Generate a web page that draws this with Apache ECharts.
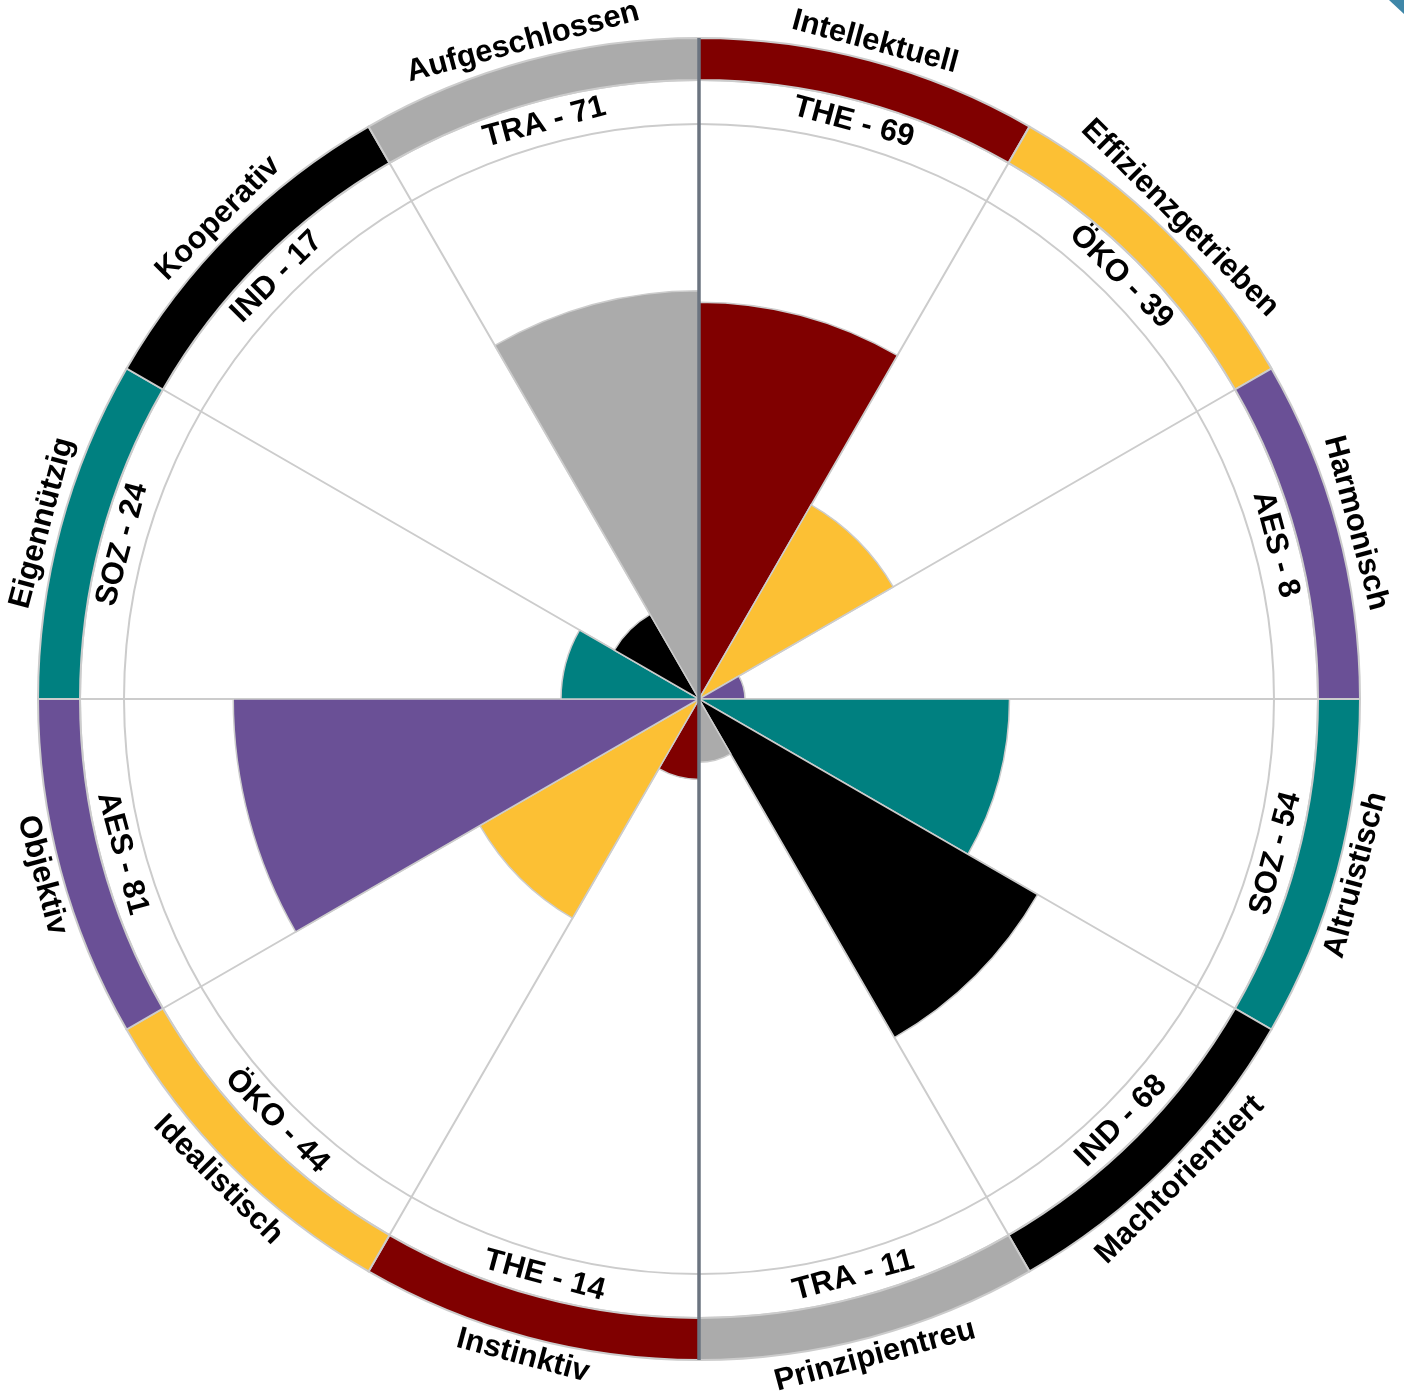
<!DOCTYPE html>
<html>
<head>
<meta charset="utf-8">
<script src="https://cdn.jsdelivr.net/npm/echarts@6/dist/echarts.min.js"></script>
<style>
  html, body { margin: 0; padding: 0; background: #fff; }
  #chart { width: 1404px; height: 1395px; }
</style>
</head>
<body>
<div id="chart"></div>
<script>
// data
const categories = [
  "Intellektuell", "Effizienzgetrieben", "Harmonisch", "Altruistisch",
  "Machtorientiert", "Prinzipientreu", "Instinktiv", "Idealistisch",
  "Objektiv", "Eigennützig", "Kooperativ", "Aufgeschlossen",
];
const codes = ["THE", "ÖKO", "AES", "SOZ", "IND", "TRA", "THE", "ÖKO", "AES", "SOZ", "IND", "TRA"];
const values = [69, 39, 8, 54, 68, 11, 14, 44, 81, 24, 17, 71];

// colours per motive code
const codeColors = {
  THE: "#800000",
  "ÖKO": "#FCC034",
  AES: "#6A5096",
  SOZ: "#008080",
  IND: "#000000",
  TRA: "#ABABAB",
};

// layout
const CX = 699, CY = 699;
const R_GRID = 575;      // value 100
const R_RING_IN = 619;
const R_RING_OUT = 661;
const R_NAME = 680;      // centre of the category name labels
const FONT = "'Liberation Sans', Arial, sans-serif";
const FONT_SIZE = 31;

const chart = echarts.init(document.getElementById("chart"), null, { renderer: "canvas" });

const hiddenAngle = (idx, split) => ({
  polarIndex: idx,
  type: "category",
  data: categories,
  startAngle: 90,
  clockwise: true,
  boundaryGap: true,
  axisLine: { show: false },
  axisTick: { show: false },
  axisLabel: { show: false },
  splitLine: { show: split, lineStyle: { color: "#cccccc", width: 2 } },
});

const hiddenRadius = (idx) => ({
  polarIndex: idx,
  type: "value",
  min: 0,
  max: 1,
  axisLine: { show: false },
  axisTick: { show: false },
  axisLabel: { show: false },
  splitLine: { show: false },
});

const labelStyle = {
  show: true,
  position: "middle",
  rotate: "tangential",
  fontFamily: FONT,
  fontWeight: "bold",
  fontSize: FONT_SIZE,
  color: "#000",
};

const option = {
  backgroundColor: "#ffffff",
  animation: false,
  textStyle: { fontFamily: FONT },
  polar: [
    { center: [CX, CY], radius: [0, R_RING_IN] },
    { center: [CX, CY], radius: [R_GRID, R_RING_IN] },
    { center: [CX, CY], radius: [R_RING_IN, R_RING_OUT] },
    { center: [CX, CY], radius: [R_RING_OUT, 2 * R_NAME - R_RING_OUT] },
  ],
  angleAxis: [hiddenAngle(0, true), hiddenAngle(1, false), hiddenAngle(2, false), hiddenAngle(3, false)],
  radiusAxis: [
    {
      polarIndex: 0,
      type: "value",
      min: 0,
      max: (100 * R_RING_IN) / R_GRID,
      interval: 100,
      axisLine: { show: false },
      axisTick: { show: false },
      axisLabel: { show: false },
      splitLine: { show: true, lineStyle: { color: "#cccccc", width: 2 } },
    },
    hiddenRadius(1),
    hiddenRadius(2),
    hiddenRadius(3),
  ],
  series: [
    {
      name: "Werte",
      type: "bar",
      coordinateSystem: "polar",
      polarIndex: 0,
      barCategoryGap: "0%",
      itemStyle: { borderColor: "#cccccc", borderWidth: 1.5 },
      data: values.map((v, i) => ({ value: v, itemStyle: { color: codeColors[codes[i]] } })),
      z: 3,
    },
    {
      name: "Codes",
      type: "bar",
      coordinateSystem: "polar",
      polarIndex: 1,
      barCategoryGap: "0%",
      silent: true,
      itemStyle: { color: "rgba(0,0,0,0)" },
      label: {
        ...labelStyle,
        formatter: (p) => codes[p.dataIndex] + " - " + values[p.dataIndex],
      },
      data: categories.map(() => 1),
      z: 4,
    },
    {
      name: "Ring",
      type: "bar",
      coordinateSystem: "polar",
      polarIndex: 2,
      barCategoryGap: "0%",
      silent: true,
      itemStyle: { borderColor: "#cccccc", borderWidth: 2 },
      data: codes.map((c) => ({ value: 1, itemStyle: { color: codeColors[c] } })),
      z: 3,
    },
    {
      name: "Namen",
      type: "bar",
      coordinateSystem: "polar",
      polarIndex: 3,
      barCategoryGap: "0%",
      silent: true,
      itemStyle: { color: "rgba(0,0,0,0)" },
      label: {
        ...labelStyle,
        formatter: (p) => categories[p.dataIndex],
      },
      data: categories.map(() => 1),
      z: 4,
    },
  ],
  graphic: [
    {
      type: "line",
      z: 100,
      silent: true,
      shape: { x1: CX, y1: CY - R_RING_OUT, x2: CX, y2: CY + R_RING_OUT },
      style: { stroke: "#6B7480", lineWidth: 3.5 },
    },
    {
      type: "polygon",
      z: 100,
      silent: true,
      shape: { points: [[1389, 0], [1404, 0], [1404, 14]] },
      style: { fill: "#3F87A8" },
    },
  ],
};

chart.setOption(option);
</script>
</body>
</html>
